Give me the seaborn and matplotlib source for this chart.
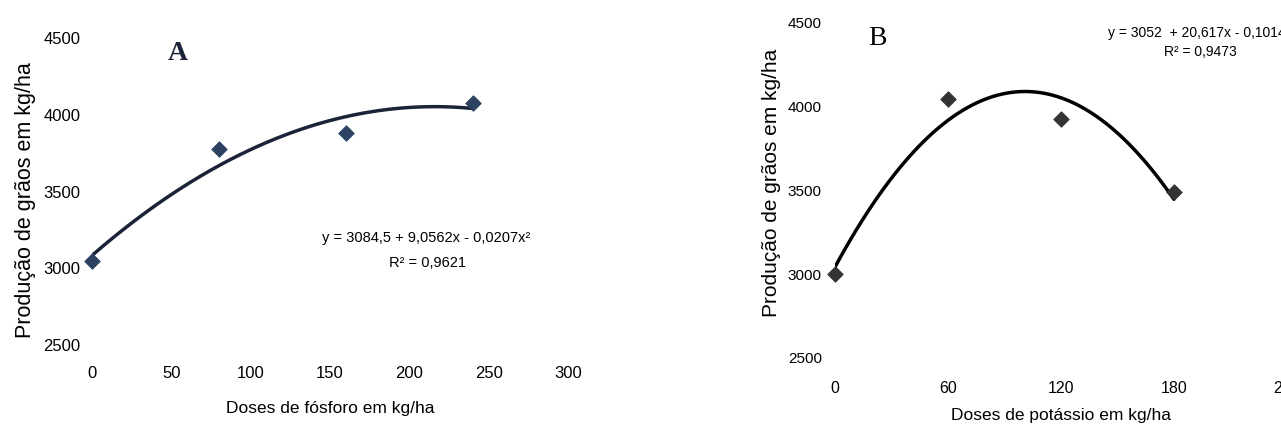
import numpy as np
import pandas as pd
import matplotlib
matplotlib.use("Agg")
import matplotlib.pyplot as plt
import seaborn as sns

# Panel A - phosphorus doses
doses_p = [0, 80, 160, 240]
yield_p = [3048, 3774, 3882, 4076]
eq_p = "y = 3084,5 + 9,0562x - 0,0207x²"
r2_p = "R² = 0,9621"

# Panel B - potassium doses
doses_k = [0, 60, 120, 180]
yield_k = [3000, 4046, 3926, 3490]
eq_k = "y = 3052  + 20,617x - 0,1014x²"
r2_k = "R² = 0,9473"

xticks_p = [0, 50, 100, 150, 200, 250, 300]
xticks_k = [0, 60, 120, 180, 240]
yticks = [2500, 3000, 3500, 4000, 4500]

ylabel = "Produção de grãos em kg/ha"

sns.set_style("white")
plt.rcParams['font.family'] = ['Liberation Sans', 'DejaVu Sans']
plt.rcParams['text.color'] = 'black'
plt.rcParams['axes.labelcolor'] = 'black'
plt.rcParams['xtick.color'] = 'black'
plt.rcParams['ytick.color'] = 'black'

fig = plt.figure(figsize=(12.81, 4.32), dpi=100)
ax_a = fig.add_axes([0.0718, 0.2014, 0.3716, 0.7106])
ax_b = fig.add_axes([0.6518, 0.1713, 0.3528, 0.7755])


def draw_panel(ax, x, y, line_color, marker_color):
    df = pd.DataFrame({"dose": x, "prod": y})
    # quadratic trend line fitted by seaborn
    sns.regplot(data=df, x="dose", y="prod", order=2, ci=None, ax=ax,
                scatter=False, line_kws={"color": line_color, "lw": 2.5})
    sns.scatterplot(data=df, x="dose", y="prod", ax=ax, marker="D", s=62,
                    color=marker_color, edgecolor=marker_color, zorder=3,
                    clip_on=False)
    for s in ax.spines.values():
        s.set_visible(False)
    ax.set_yticks(yticks)
    ax.set_ylim(2500, 4500)
    ax.tick_params(length=0)


# --- A ---
draw_panel(ax_a, doses_p, yield_p, "#1b2338", "#2c4260")
ax_a.set_xlim(0, 300)
ax_a.set_xticks(xticks_p)
ax_a.tick_params(axis="x", pad=15, labelsize=12)
ax_a.tick_params(axis="y", pad=8.5, labelsize=12)
ax_a.set_xlabel("Doses de fósforo em kg/ha", fontsize=12.5)
ax_a.set_ylabel(ylabel, fontsize=15.5)
ax_a.xaxis.set_label_coords(0.5, -0.182)
ax_a.yaxis.set_label_coords(-0.118, 0.472)
ax_a.text(0.181, 0.948, "A", transform=ax_a.transAxes, ha="center", va="center",
          fontsize=20, fontweight="bold", family="Liberation Serif", color="#1b2338")
ax_a.text(0.702, 0.349, eq_p, transform=ax_a.transAxes, ha="center", va="center",
          fontsize=10.5)
ax_a.text(0.705, 0.267, r2_p, transform=ax_a.transAxes, ha="center", va="center",
          fontsize=10.5)

# --- B ---
draw_panel(ax_b, doses_k, yield_k, "black", "#333333")
ax_b.set_xlim(0, 240)
ax_b.set_xticks(xticks_k)
ax_b.tick_params(axis="x", pad=16.5, labelsize=11.5)
ax_b.tick_params(axis="y", pad=9.5, labelsize=11)
ax_b.set_xlabel("Doses de potássio em kg/ha", fontsize=12.5)
ax_b.set_ylabel(ylabel, fontsize=15)
ax_b.xaxis.set_label_coords(0.5, -0.149)
ax_b.yaxis.set_label_coords(-0.119, 0.522)
ax_b.text(0.095, 0.955, "B", transform=ax_b.transAxes, ha="center", va="center",
          fontsize=20, family="Liberation Serif")
ax_b.text(0.814, 0.970, eq_k, transform=ax_b.transAxes, ha="center", va="center",
          fontsize=10)
ax_b.text(0.808, 0.913, r2_k, transform=ax_b.transAxes, ha="center", va="center",
          fontsize=10)

fig.savefig("out.png", dpi=100)
